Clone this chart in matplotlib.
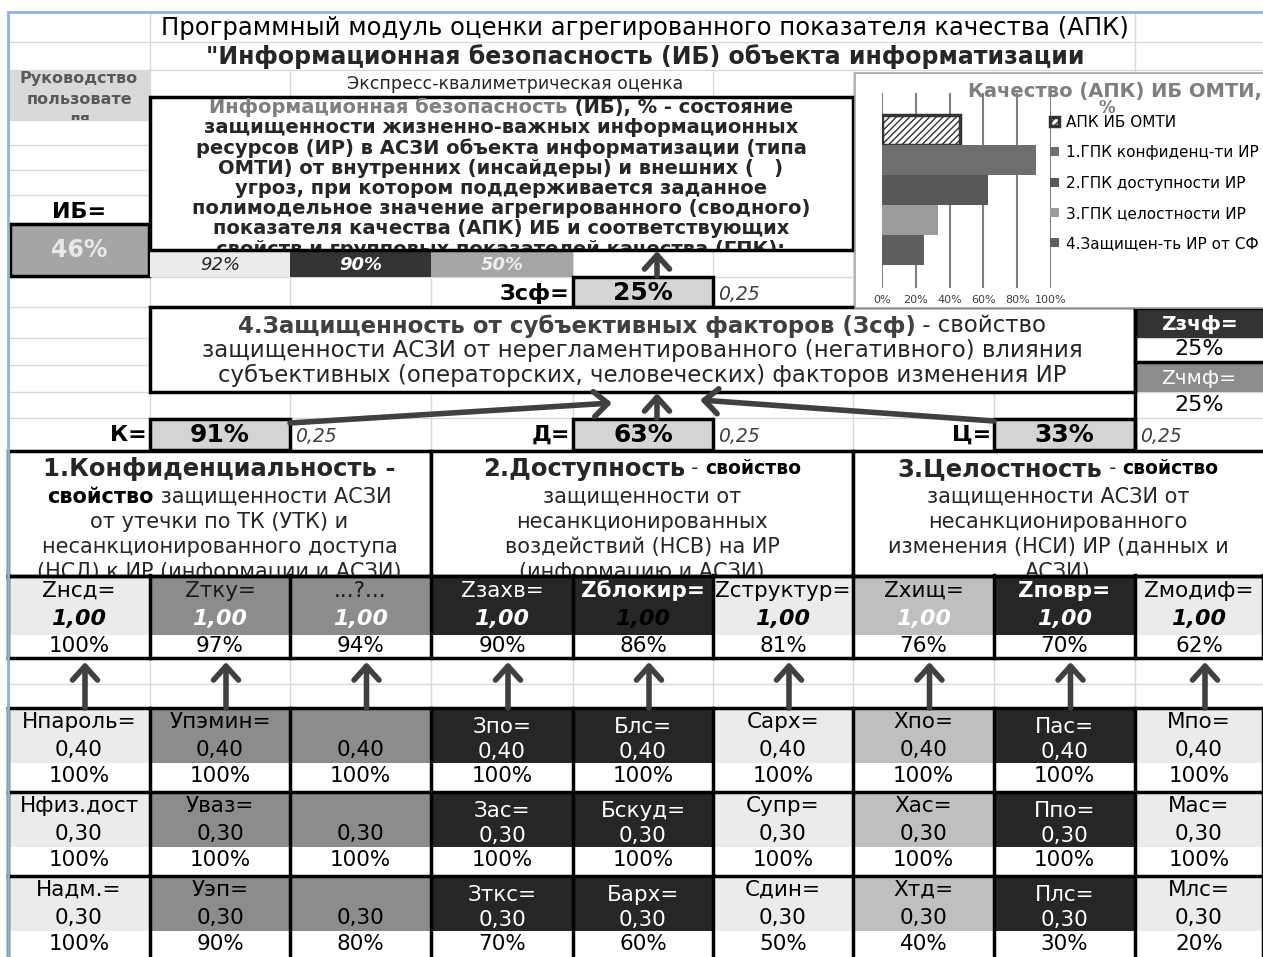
import matplotlib.pyplot as plt
from matplotlib.patches import Rectangle
from matplotlib.transforms import Bbox, TransformedBbox

# main indicators
ib_value = 46
zsf_value = 25
mini_pct = [92, 90, 50]
group_names = ['К=', 'Д=', 'Ц=']
group_values = [91, 63, 33]
group_weight = '0,25'
zzchf_value = 25
zchmf_value = 25

# bar chart
chart_labels = ['АПК ИБ ОМТИ', '1.ГПК конфиденц-ти ИР', '2.ГПК доступности ИР',
                '3.ГПК целостности ИР', '4.Защищен-ть ИР от СФ']
chart_values = [46, 91, 63, 33, 25]

# Z table
z_labels = ['Zнсд=', 'Zтку=', '...?...', 'Zзахв=', 'Zблокир=', 'Zструктур=', 'Zхищ=', 'Zповр=', 'Zмодиф=']
z_values = [1.00, 1.00, 1.00, 1.00, 1.00, 1.00, 1.00, 1.00, 1.00]
z_pct = [100, 97, 94, 90, 86, 81, 76, 70, 62]

sub_labels = [
    ['Нпароль=', 'Упэмин=', '', 'Зпо=', 'Блс=', 'Сарх=', 'Хпо=', 'Пас=', 'Мпо='],
    ['Нфиз.дост', 'Уваз=', '', 'Зас=', 'Бскуд=', 'Супр=', 'Хас=', 'Ппо=', 'Мас='],
    ['Надм.=', 'Уэп=', '', 'Зткс=', 'Барх=', 'Сдин=', 'Хтд=', 'Плс=', 'Млс='],
]
sub_values = [0.40, 0.30, 0.30]
sub_pct = [
    [100, 100, 100, 100, 100, 100, 100, 100, 100],
    [100, 100, 100, 100, 100, 100, 100, 100, 100],
    [100, 90, 80, 70, 60, 50, 40, 30, 20],
]

# column look
cols = [8, 150, 290, 431, 573, 713, 853, 994, 1135, 1263]
col_fill = ['#ebebeb', '#8c8c8c', '#8c8c8c', '#262626', '#262626', '#ebebeb', '#bfbfbf', '#262626', '#ebebeb']
lab_color = ['black', '#1a1a1a', '#1a1a1a', 'white', 'white', 'black', 'black', 'white', 'black']
val_color = ['black', 'white', 'white', 'white', 'black', 'black', 'white', 'white', 'black']

DARK = '#262626'
ARROW = '#404040'


def fmt(v):
    return ('%.2f' % v).replace('.', ',')


fig = plt.figure(figsize=(12.63, 9.57), dpi=100)
ax = fig.add_axes([0, 0, 1, 1])
ax.set_xlim(0, 1263)
ax.set_ylim(957, 0)
ax.axis('off')
R = fig.canvas.get_renderer()


def box(x0, y0, x1, y1, fc='white', lw=0, ec='black', z=2):
    ax.add_patch(Rectangle((x0, y0), x1 - x0, y1 - y0, facecolor=fc,
                           edgecolor=ec, lw=lw, zorder=z))


def clipbox(x0, y0, x1, y1):
    return TransformedBbox(Bbox([[x0, y0], [x1, y1]]), ax.transData)


def put(x, y, s, size, clip=None, ha='center', **kw):
    t = ax.text(x, y, s, fontsize=size, ha=ha, va='center', zorder=4, **kw)
    if clip is not None:
        t.set_clip_on(True)
        t.set_clip_box(clipbox(*clip))
    return t


def runs(xc, y, parts, clip=None):
    # several text pieces on one centred line
    objs = [put(0, y, s, size, clip=clip, ha='left', **kw) for s, size, kw in parts]
    widths = [t.get_window_extent(R).width for t in objs]
    x = xc - sum(widths) / 2
    for t, w in zip(objs, widths):
        t.set_x(x)
        x += w


def arrow(x0, y0, x1, y1):
    ax.annotate('', xy=(x1, y1), xytext=(x0, y0), zorder=5,
                arrowprops=dict(arrowstyle='->,head_length=0.5,head_width=0.45',
                                mutation_scale=20, lw=4, color=ARROW,
                                shrinkA=0, shrinkB=0))


# spreadsheet grid
grid = '#d9d9d9'
for y in [42, 70, 97, 120, 145, 170, 195, 223, 250, 277, 307, 338, 365, 392, 418, 450, 684]:
    ax.plot([8, 1263], [y, y], color=grid, lw=1, zorder=1)
for x in cols[1:-1]:
    ax.plot([x, x], [70, 957], color=grid, lw=1, zorder=1)
for x in [150, 1135]:
    ax.plot([x, x], [12, 70], color=grid, lw=1, zorder=1)
box(431, 71, 713, 96, lw=0)
ax.plot([8, 1263], [12, 12], color='#8db4e2', lw=2, zorder=6)
ax.plot([8, 8], [12, 957], color='#8db4e2', lw=2, zorder=6)

# header rows
put(645, 28, 'Программный модуль оценки агрегированного показателя качества (АПК)', 17.5, color='black')
put(645, 57, '"Информационная безопасность (ИБ) объекта информатизации', 17,
    fontweight='bold', color=DARK)
put(515, 84, 'Экспресс-квалиметрическая оценка', 12.5, color=DARK)

box(9, 71, 150, 120, fc='#d9d9d9')
for i, s in enumerate(['Руководство', 'пользовате', 'ля']):
    put(79, 79 + 20 * i, s, 11.5, clip=(9, 70, 150, 120), fontweight='bold', color='#595959')

put(79, 212, 'ИБ=', 16, fontweight='bold', color='black')
box(10, 224, 149, 276, fc='#a5a5a5', lw=2.5)
put(79, 250, '%d%%' % ib_value, 17, fontweight='bold', color='#e8e8e8')

# definition box
box(150, 97, 853, 250, lw=2.5, z=3)
ib_lines = [
    'защищенности жизненно-важных информационных',
    'ресурсов (ИР) в АСЗИ объекта информатизации (типа',
    'ОМТИ) от внутренних (инсайдеры) и внешних (   )',
    'угроз, при котором поддерживается заданное',
    'полимодельное значение агрегированного (сводного)',
    'показателя качества (АПК) ИБ и соответствующих',
    'свойств и групповых показателей качества (ГПК):',
]
clip_ib = (151, 98, 852, 249)
runs(501, 107, [('Информационная безопасность', 14, dict(fontweight='bold', color='#7f7f7f')),
                (' (ИБ), % - состояние', 14, dict(fontweight='bold', color=DARK))], clip=clip_ib)
for i, s in enumerate(ib_lines):
    put(501, 127.5 + 20.3 * i, s, 14, clip=clip_ib, fontweight='bold', color=DARK)

# small percentages under the box
mini_fill = ['#ebebeb', '#333333', '#a6a6a6']
mini_color = ['#262626', 'white', '#eeeeee']
for j in range(3):
    box(cols[j + 1], 251, cols[j + 2], 277, fc=mini_fill[j])
    put((cols[j + 1] + cols[j + 2]) / 2, 265, '%d%%' % mini_pct[j], 13, fontstyle='italic',
        fontweight='normal' if j == 0 else 'bold', color=mini_color[j])

# Зсф row
put(569, 293, 'Зсф=', 16, ha='right', fontweight='bold', color='black')
box(573, 277, 713, 307, fc='#d4d4d4', lw=2.5)
put(643, 293, '%d%%' % zsf_value, 18, fontweight='bold', color='black')
put(718, 294, group_weight, 13.5, ha='left', fontstyle='italic', color='#404040')
arrow(657, 276, 657, 251)

# box 4
box(150, 307, 1135, 392, lw=2.5, z=3)
runs(642, 326, [('4.Защищенность от субъективных факторов (Зсф)', 16.5, dict(fontweight='bold', color='#404040')),
                (' - свойство', 16.5, dict(color=DARK))], clip=(151, 308, 1134, 391))
put(642, 351, 'защищенности АСЗИ от нерегламентированного (негативного) влияния', 16.5, color=DARK)
put(642, 375, 'субъективных (операторских, человеческих) факторов изменения ИР', 16.5, color=DARK)

# Zзчф / Zчмф
box(1135, 309, 1263, 338, fc='#333333')
put(1199, 324, 'Zзчф=', 14.5, fontweight='bold', color='white')
put(1199, 349, '%d%%' % zzchf_value, 16, color='black')
box(1135, 363, 1263, 392, fc='#8c8c8c')
put(1199, 378, 'Zчмф=', 14.5, color='white')
put(1199, 405, '%d%%' % zchmf_value, 16, color='black')
ax.plot([1135, 1135], [307, 450], color='black', lw=2.5, zorder=3)
ax.plot([1135, 1263], [362, 362], color='black', lw=2.5, zorder=3)
ax.plot([1135, 1263], [308, 308], color='black', lw=2.5, zorder=3)

# K / Д / Ц row
group_box = [(150, 290), (573, 713), (994, 1135)]
for name, v, (x0, x1) in zip(group_names, group_values, group_box):
    put(x0 - 3, 435, name, 16, ha='right', fontweight='bold', color='black')
    box(x0, 419, x1, 450, fc='#d4d4d4', lw=2.5)
    put((x0 + x1) / 2, 435, '%d%%' % v, 18, fontweight='bold', color='black')
    put(x1 + 5, 436, group_weight, 13.5, ha='left', fontstyle='italic', color='#404040')
arrow(290, 423, 612, 403)
arrow(994, 421, 700, 400)
arrow(657, 418, 657, 393)

# three property boxes
prop_box = [(8, 431), (431, 853), (853, 1268)]
prop_title = ['1.Конфиденциальность -', '2.Доступность', '3.Целостность']
prop_lines = [
    ['от утечки по ТК (УТК) и', 'несанкционированного доступа', '(НСД) к ИР (информации и АСЗИ)'],
    ['защищенности от', 'несанкционированных', 'воздействий (НСВ) на ИР', '(информацию и АСЗИ)'],
    ['защищенности АСЗИ от', 'несанкционированного', 'изменения (НСИ) ИР (данных и', 'АСЗИ)'],
]
for k, (x0, x1) in enumerate(prop_box):
    box(x0, 451, x1, 576, lw=2.5, z=3)
    cl = (x0 + 1, 452, min(x1, 1263) - 1, 575)
    xc = (x0 + min(x1, 1263)) / 2
    if k == 0:
        put(xc, 469, prop_title[0], 17.5, clip=cl, fontweight='bold', color=DARK)
        runs(xc, 497, [('свойство', 15, dict(fontweight='bold', color='black')),
                       (' защищенности АСЗИ', 15, dict(color=DARK))], clip=cl)
        ys = [522, 547, 572]
    else:
        runs(xc, 469, [(prop_title[k], 17.5, dict(fontweight='bold', color=DARK)),
                       (' - ', 14, dict(color=DARK)),
                       ('свойство', 13.5, dict(fontweight='bold', color='black'))], clip=cl)
        ys = [497, 522, 547, 572]
    for y, s in zip(ys, prop_lines[k]):
        put(xc, y, s, 15, clip=cl, color=DARK)

# Z table
for j in range(9):
    x0, x1 = cols[j], cols[j + 1]
    xc = (x0 + x1) / 2
    cl = (x0 + 2, 575, x1 - 2, 658)
    box(x0, 576, x1, 635, fc=col_fill[j])
    box(x0, 635, x1, 658, fc='white')
    put(xc, 591, z_labels[j], 15.5, clip=cl, color=lab_color[j],
        fontweight='bold' if j in (4, 7) else 'normal')
    put(xc, 619, fmt(z_values[j]), 16, fontweight='bold', fontstyle='italic', color=val_color[j])
    put(xc, 646, '%d%%' % z_pct[j], 15.5, color='black')
    arrow(xc + 6, 708, xc + 6, 662)
    for i in range(3):
        top = 708 + 84 * i
        cl = (x0 + 2, top, x1 - 2, top + 84)
        box(x0, top, x1, top + 55, fc=col_fill[j])
        box(x0, top + 55, x1, top + 84, fc='white')
        lc = 'white' if col_fill[j] == '#262626' else 'black'
        dy = 5 if col_fill[j] == '#262626' else 0
        put(xc, top + 14 + dy, sub_labels[i][j], 15.5, clip=cl, color=lc)
        put(xc, top + 42 + dy / 2, fmt(sub_values[i]), 15.5, color=lc)
        put(xc, top + 68, '%d%%' % sub_pct[i][j], 15.5, color='black')

for x in cols:
    ax.plot([x, x], [575, 658], color='black', lw=2.5, zorder=3)
    ax.plot([x, x], [708, 957], color='black', lw=2.5, zorder=3)
for y in [576, 658, 708, 792, 876]:
    ax.plot([8, 1263], [y, y], color='black', lw=2.5, zorder=3)

# embedded chart
box(855, 73, 1275, 308, fc='white', lw=1.2, ec='#a6a6a6', z=6)
put(968, 92, 'Качество (АПК) ИБ ОМТИ,', 14, ha='left', fontweight='bold', color='#7f7f7f').set_zorder(7)
put(1107, 108, '%', 12, fontweight='bold', color='#7f7f7f').set_zorder(7)

ch = fig.add_axes([882 / 1263, (957 - 288) / 957, 169 / 1263, 195 / 957])
ch.patch.set_alpha(0)
bar_fc = ['white', '#6e6e6e', '#585858', '#9c9c9c', '#5f5f5f']
for i, (lab, v) in enumerate(zip(chart_labels, chart_values)):
    if i == 0:
        ch.barh(i, v, height=1.0, color='white', edgecolor='#333333', lw=2.5, hatch='/////', label=lab, zorder=3)
    else:
        ch.barh(i, v, height=1.0, color=bar_fc[i], lw=0, label=lab, zorder=3)
ch.set_xlim(0, 100)
ch.set_ylim(5.27, -1.23)
ch.set_xticks([0, 20, 40, 60, 80, 100])
ch.set_xticklabels(['0%', '20%', '40%', '60%', '80%', '100%'], fontsize=8, color='#404040')
ch.set_yticks([])
ch.tick_params(axis='x', length=0, pad=5)
ch.grid(axis='x', color='#7f7f7f', lw=1.5, zorder=0)
for s in ch.spines.values():
    s.set_visible(False)
ch.legend(loc='upper left', bbox_to_anchor=(1050, 115), bbox_transform=ax.transData,
          frameon=False, fontsize=11, labelspacing=1.0, handlelength=0.6,
          handleheight=0.55, handletextpad=0.45, borderpad=0, borderaxespad=0)

fig.savefig('out.png', dpi=100)
